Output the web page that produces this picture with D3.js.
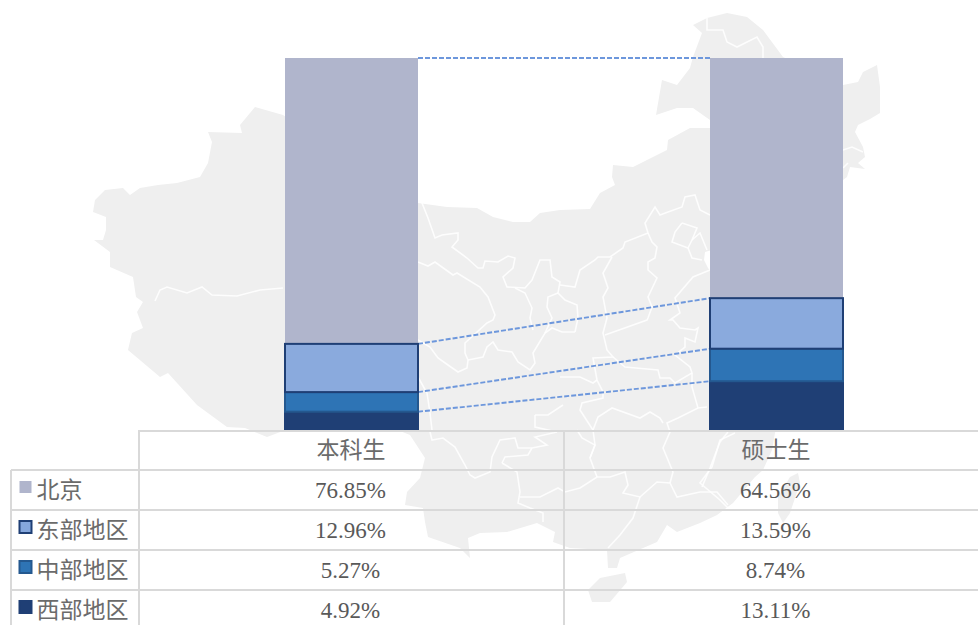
<!DOCTYPE html>
<html lang="zh">
<head>
    <meta charset="UTF-8">
    <title>本科生 硕士生 生源地区</title>
    <script src="https://d3js.org/d3.v7.min.js"></script>
    <style>
        body { margin: 0; background: #fff; }
        text { font-family: "Liberation Serif", "Noto Sans CJK SC", serif; font-size: 23px; }
    </style>
</head>
<body>
    <svg id="chart" width="978" height="625"></svg>
    <script>
        const categories = ["本科生", "硕士生"];
        const regions = ["北京", "东部地区", "中部地区", "西部地区"];
        const undergrad = [76.85, 12.96, 5.27, 4.92];
        const master = [64.56, 13.59, 8.74, 13.11];
        const undergradLabels = ["76.85%", "12.96%", "5.27%", "4.92%"];
        const masterLabels = ["64.56%", "13.59%", "8.74%", "13.11%"];
        const fills = ["#b0b5cc", "#85a7dc", "#2e74b5", "#1f3f75"];
        const strokes = ["none", "#1f3f75", "#24588f", "#1f3f75"];

        // backdrop map, traced by hand
        const mapOutline = [[693,25],[707,18],[727,13],[747,17],[763,30],[783,57],[843,85],[858,82],[863,72],[877,65],[880,87],[880,113],[870,119],[858,125],[855,132],[863,147],[865,157],[858,163],[865,169],[850,167],[847,177],[843,180],[720,240],[712,250],[705,252],[704,260],[708,268],[725,290],[740,303],[750,325],[763,348],[775,380],[780,410],[775,433],[772,450],[763,470],[755,477],[733,503],[717,515],[700,523],[677,532],[667,525],[657,542],[620,558],[617,568],[608,568],[607,550],[570,548],[553,542],[555,532],[537,523],[507,532],[480,533],[468,538],[470,558],[460,548],[428,537],[425,522],[423,508],[405,505],[407,492],[420,478],[425,458],[410,435],[400,431],[283,431],[267,437],[245,428],[227,427],[197,405],[168,373],[160,377],[128,350],[132,333],[143,328],[137,312],[143,302],[136,297],[133,277],[110,267],[110,252],[94,240],[103,240],[106,230],[106,217],[93,212],[95,200],[105,190],[123,188],[130,195],[140,188],[158,185],[177,183],[200,177],[208,163],[212,142],[208,132],[242,133],[240,125],[255,107],[283,115],[418,203],[447,207],[477,208],[493,217],[513,222],[530,222],[540,213],[560,210],[590,209],[600,193],[615,185],[612,177],[613,165],[633,167],[647,160],[667,150],[668,140],[690,128],[710,128],[710,120],[693,108],[677,108],[656,115],[662,80],[677,85],[690,68],[693,57],[702,33]];
        const mapIslands = [
            [[588,590],[600,578],[625,573],[627,582],[610,602],[592,602]],
            [[798,473],[790,477],[778,497],[778,513],[783,523],[790,513],[800,483]]
        ];
        const mapBorders = [
            [[155,301],[160,290],[167,287],[187,293],[202,287],[212,295],[237,296],[260,290],[283,288]],
            [[418,262],[428,266],[435,262],[453,275],[457,273],[480,287],[488,297],[495,315],[493,320],[487,323],[465,343],[465,353],[468,360],[467,368],[458,372],[448,365],[438,358],[430,347],[418,340]],
            [[468,360],[483,357],[487,347],[493,342],[498,350],[512,352],[518,362],[530,370],[535,363],[533,353],[545,333],[552,328],[562,332],[575,332]],
            [[422,203],[428,218],[435,238],[442,235],[458,233],[458,240],[452,247],[467,258],[478,268],[483,268],[485,261],[498,262],[508,256],[515,258],[513,268],[503,277],[507,287],[525,288],[532,280],[540,260],[550,260],[552,277],[560,282],[558,293],[565,300],[577,305],[578,318],[575,332]],
            [[515,288],[525,293],[532,308],[530,318],[533,330]],
            [[558,293],[548,297],[547,307],[552,318],[545,333]],
            [[560,285],[575,287],[580,270],[595,260],[598,257],[610,257],[623,248],[625,242],[648,233],[645,223],[655,207],[660,215],[668,212],[682,207],[685,197],[695,195],[700,210],[710,215]],
            [[648,233],[652,242],[657,247],[655,258],[648,262],[648,270],[657,278],[648,297],[652,307],[648,318],[647,320],[605,335]],
            [[612,257],[603,273],[608,288],[603,297],[607,318],[603,333],[607,350],[613,357],[593,358],[597,380],[603,392],[603,398],[582,403],[580,410],[593,430],[595,445],[590,458],[597,477]],
            [[682,223],[697,228],[692,240],[688,248],[672,242],[675,232],[682,223]],
            [[692,240],[700,233],[707,250]],
            [[688,248],[692,258],[702,260]],
            [[710,270],[693,277],[675,298],[680,313],[670,320],[673,320],[680,328],[695,330],[698,328],[695,342],[685,338],[685,347],[675,355],[690,367],[692,373],[675,383],[670,378],[660,378],[658,370],[625,367],[613,357]],
            [[692,373],[692,387],[698,408],[707,407]],
            [[698,408],[678,418],[667,423],[670,432],[663,448],[673,472],[670,483]],
            [[663,423],[660,418],[650,412],[640,418],[612,408],[598,417],[593,430]],
            [[560,377],[580,377],[593,383],[597,380]],
            [[535,415],[535,427],[557,432],[535,437],[547,445],[532,448],[518,448],[515,438],[500,440],[492,457],[490,472],[475,478],[470,475],[465,465],[455,447],[443,438],[432,440],[430,432]],
            [[563,405],[548,415],[535,415]],
            [[502,463],[505,457],[528,455],[532,448]],
            [[502,463],[517,472],[520,492],[518,503],[530,508],[543,513],[543,522]],
            [[520,497],[540,497],[558,488],[565,492],[580,488],[597,477],[610,477],[625,472],[628,485],[623,493],[640,497],[657,482],[670,483],[677,497],[700,492],[717,492],[728,505]],
            [[590,458],[595,445],[582,438],[577,430]],
            [[702,487],[710,468],[720,442],[728,432]],
            [[640,497],[633,518],[620,535],[608,548]],
            [[735,433],[720,440],[712,467],[700,483],[720,500],[728,508]],
            [[418,377],[427,393],[430,413],[432,430]],
            [[305,344],[320,348],[337,358],[367,363],[383,380],[397,382],[410,367],[418,377]],
            [[707,18],[707,30],[723,30],[727,42],[737,47],[757,37],[763,47],[763,58]],
            [[843,150],[852,147],[863,152]],
            [[848,163],[843,168]]
        ];

        const svg = d3.select("#chart");

        const tableTop = 430, rowH = 40, firstCol = 139, colW = 425, tableLeft = 11;
        const x = d3.scaleBand().domain(categories).range([firstCol, firstCol + colW * categories.length]);
        const rowY = d3.scaleBand().domain(["head", ...regions]).range([tableTop, tableTop + rowH * 5]);
        const y = d3.scaleLinear().domain([0, 100]).range([430, 58]);
        const color = d3.scaleOrdinal().domain(regions).range(fills);
        const edge = d3.scaleOrdinal().domain(regions).range(strokes);
        const barW = 133;
        const barX = c => x(c) + (x.bandwidth() - barW) / 2;

        // map first, everything else sits on it
        const line = d3.line();
        const map = svg.append("g");
        map.selectAll("path.land")
            .data([mapOutline, ...mapIslands])
            .enter().append("path")
            .attr("class", "land")
            .attr("d", d => line(d) + "Z")
            .attr("fill", "#efefef");
        map.selectAll("path.border")
            .data(mapBorders)
            .enter().append("path")
            .attr("class", "border")
            .attr("d", line)
            .attr("fill", "none")
            .attr("stroke", "#fff")
            .attr("stroke-opacity", 0.85)
            .attr("stroke-width", 1.6);

        // stacked columns, 西部 at the bottom
        const rows = categories.map((c, i) => {
            const src = i === 0 ? undergrad : master;
            const r = {category: c};
            regions.forEach((k, j) => r[k] = src[j]);
            return r;
        });
        const stacked = d3.stack().keys(regions.slice().reverse())(rows);

        // dashed connectors between the two columns
        svg.append("g").selectAll("line")
            .data(stacked)
            .enter().append("line")
            .attr("x1", barX(categories[0]) + barW)
            .attr("x2", barX(categories[1]))
            .attr("y1", d => y(d[0][1]))
            .attr("y2", d => y(d[1][1]))
            .attr("stroke", "#6d97dc")
            .attr("stroke-width", 1.9)
            .attr("stroke-dasharray", "5,2");

        // 东部 goes last so its dark edge stays on top
        const drawOrder = ["西部地区", "中部地区", "北京", "东部地区"];
        drawOrder.forEach(k => {
            const s = stacked.find(d => d.key === k);
            svg.append("g").selectAll("rect")
                .data(s)
                .enter().append("rect")
                .attr("x", d => barX(d.data.category))
                .attr("y", d => y(d[1]))
                .attr("width", barW)
                .attr("height", d => y(d[0]) - y(d[1]))
                .attr("fill", color(k))
                .attr("fill-opacity", k === "东部地区" ? 0.96 : 1)
                .attr("stroke", edge(k))
                .attr("stroke-width", 2);
        });

        // data table under the chart
        const grid = svg.append("g").attr("stroke", "#d9d9d9").attr("stroke-width", 2);
        grid.append("line").attr("x1", firstCol).attr("x2", 978).attr("y1", tableTop + 1).attr("y2", tableTop + 1);
        regions.forEach(r => {
            grid.append("line").attr("x1", tableLeft).attr("x2", 978).attr("y1", rowY(r)).attr("y2", rowY(r));
        });
        grid.append("line").attr("x1", tableLeft).attr("x2", tableLeft).attr("y1", rowY(regions[0])).attr("y2", 625);
        categories.forEach(c => {
            grid.append("line").attr("x1", x(c)).attr("x2", x(c)).attr("y1", tableTop).attr("y2", 625);
        });

        svg.append("g").selectAll("text")
            .data(categories)
            .enter().append("text")
            .attr("x", d => x(d) + colW / 2 - 0.5)
            .attr("y", rowY("head") + 28)
            .attr("text-anchor", "middle")
            .attr("fill", "#6b6b6b")
            .text(d => d);

        regions.forEach((r, i) => {
            const row = svg.append("g").attr("transform", `translate(0,${rowY(r)})`);
            row.append("rect")
                .attr("x", 19.5).attr("y", 11)
                .attr("width", 12).attr("height", 12)
                .attr("fill", fills[i])
                .attr("stroke", strokes[i])
                .attr("stroke-width", 2);
            row.append("text")
                .attr("x", 36.5).attr("y", 28)
                .attr("fill", "#6b6b6b")
                .text(r);
            [undergradLabels[i], masterLabels[i]].forEach((t, j) => {
                row.append("text")
                    .attr("x", x(categories[j]) + colW / 2 - 1)
                    .attr("y", 28)
                    .attr("text-anchor", "middle")
                    .attr("fill", "#595959")
                    .text(t);
            });
        });
    </script>
</body>
</html>
